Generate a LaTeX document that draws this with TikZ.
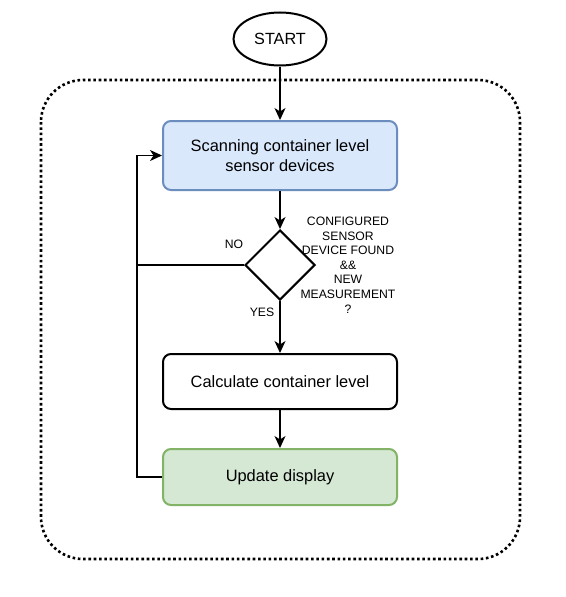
\documentclass[tikz,border=0pt]{standalone}
\usepackage{fontspec}
\setmainfont{Liberation Sans}
\usetikzlibrary{shapes.geometric,arrows.meta}
\definecolor{bluefill}{HTML}{DAE8FC}
\definecolor{bluedraw}{HTML}{6C8EBF}
\definecolor{greenfill}{HTML}{D5E8D4}
\definecolor{greendraw}{HTML}{82B366}
\tikzset{
  procbox/.style={draw, rounded corners=8pt, line width=2pt, minimum width=234pt, inner sep=0pt, align=center, font=\fontsize{16.4}{19.5}\selectfont},
  conn/.style={line width=1.4pt, -{Stealth[length=12pt,width=11pt,inset=3.5pt]}},
  plain/.style={line width=1.4pt},
  smalllbl/.style={font=\fontsize{12.2}{14.6}\selectfont, align=center, inner sep=0pt},
}
\begin{document}
\begin{tikzpicture}[x=1pt,y=-1pt]
\useasboundingbox (0,0) rectangle (565,597);
\fill[white] (0,0) rectangle (565,597);
% dotted frame
\draw[line width=2.6pt, dash pattern=on 2.6pt off 2.7pt, rounded corners=42pt] (41,80) rectangle (520,559);
% nodes
\node[draw, ellipse, line width=2pt, minimum width=93pt, minimum height=53pt, inner sep=0pt, font=\fontsize{16.2}{19}\selectfont] (start) at (280,39) {START};
\node[procbox, draw=bluedraw, fill=bluefill, minimum height=69pt] (scan) at (280,155.5) {Scanning container level\\sensor devices};
\node[draw, diamond, line width=2pt, minimum width=70pt, minimum height=70pt, inner sep=0pt, aspect=1] (dia) at (280,265) {};
\node[smalllbl] (cond) at (348,265) {CONFIGURED\\SENSOR\\DEVICE FOUND\\\&\&\\NEW\\MEASUREMENT\\?};
\node[procbox, fill=white, minimum height=55pt] (calc) at (280,381.5) {Calculate container level};
\node[procbox, draw=greendraw, fill=greenfill, minimum height=56pt] (upd) at (280,477) {Update display};
\node[smalllbl] (no) at (234,244) {NO};
\node[smalllbl] (yes) at (262,312) {YES};
\coordinate (lx) at (137,477);
% connectors
\draw[conn] (start) -- (scan);
\draw[conn] (scan) -- (dia);
\draw[conn] (dia) -- (calc);
\draw[conn] (calc) -- (upd);
\draw[conn] (upd.west) -- (lx) |- (scan.west);
\draw[plain] (dia.west) -- (dia.west -| lx);
\end{tikzpicture}
\end{document}
